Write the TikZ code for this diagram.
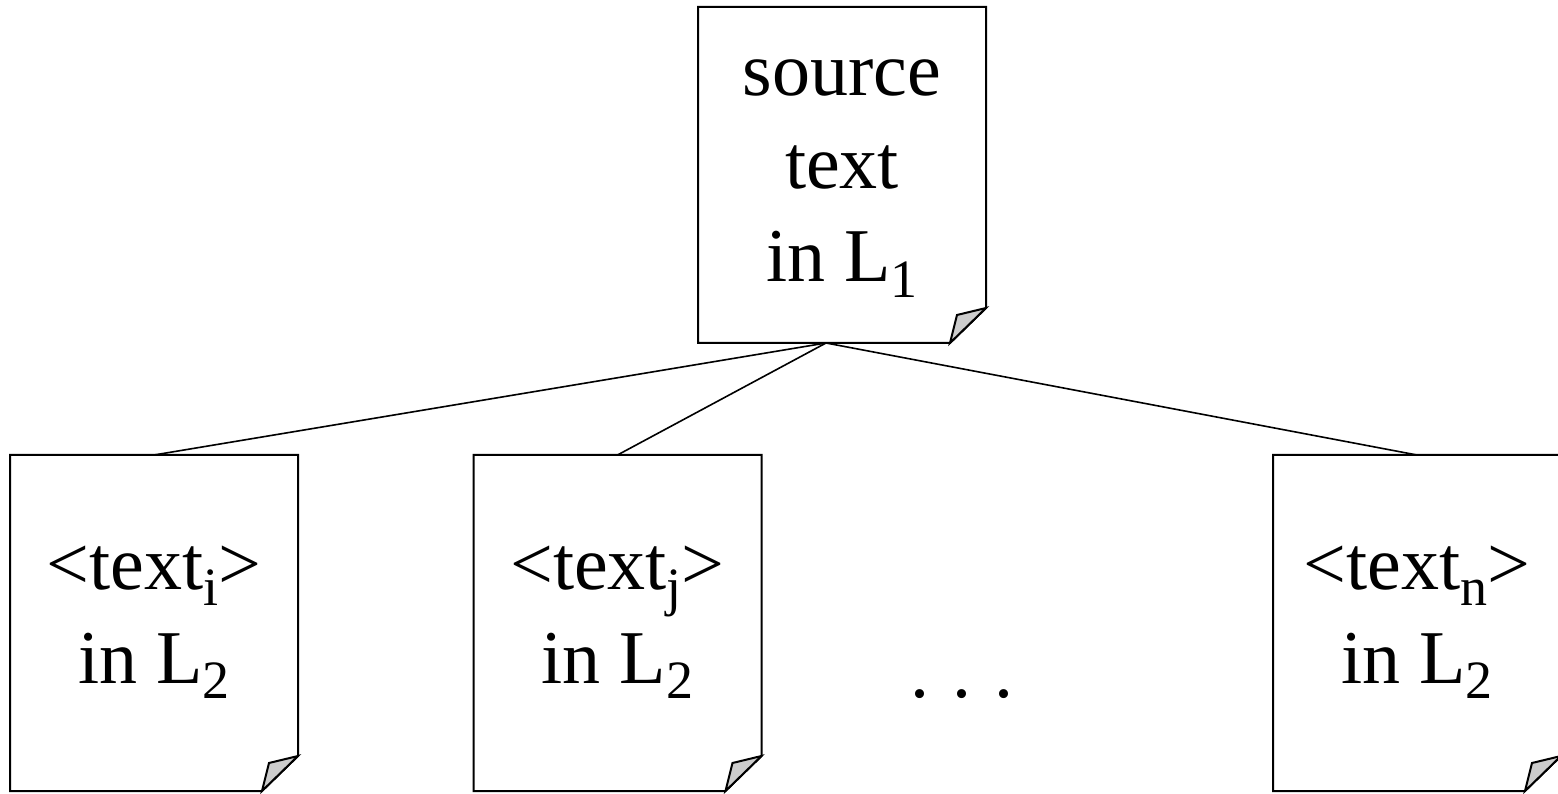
\documentclass[tikz,border=0pt]{standalone}
\usepackage{fontspec}
\setmainfont{Liberation Serif}
\usetikzlibrary{calc}
\definecolor{foldgray}{HTML}{CCCCCC}
\newcommand\sbs[1]{\raisebox{-0.21em}{\fontsize{54}{54}\selectfont #1}}
\newcommand\docshape[1]{%
  \draw[docline] (#1.north west) -- (#1.north east) -- ([yshift=35pt]#1.south east)
     -- ([xshift=-36pt]#1.south east) -- (#1.south west) -- cycle;
  \draw[docline, fill=foldgray] ([yshift=35pt]#1.south east) -- ([xshift=-29pt,yshift=28pt]#1.south east)
     -- ([xshift=-36pt]#1.south east) -- cycle;}
\begin{document}
\begin{tikzpicture}[x=1pt,y=1pt,
  docbox/.style={draw=none, minimum width=288pt, minimum height=336pt, inner sep=0pt, outer sep=0pt},
  docline/.style={line width=2pt, line join=miter},
  lbl/.style={inner sep=0pt, anchor=base, font=\fontsize{76}{93}\selectfont},
  link/.style={line width=1.6pt}]
\useasboundingbox (0,0) rectangle (1558,793);
% boxes
\node[docbox] (src) at (842,618) {};
\node[docbox] (bi) at (154,170) {};
\node[docbox] (bj) at (617.5,170) {};
\node[docbox] (bn) at (1417,170) {};
\docshape{src}
\docshape{bi}
\docshape{bj}
\docshape{bn}
% texts
\node[lbl] (srct) at (842,697) {\begin{tabular}[t]{@{}c@{}}source\\text\\in L\sbs{1}\end{tabular}};
\node[lbl] (bit) at (154,203) {\begin{tabular}[t]{@{}c@{}}<text\sbs{i}>\\in L\sbs{2}\end{tabular}};
\node[lbl] (bjt) at (617.5,203) {\begin{tabular}[t]{@{}c@{}}<text\sbs{j}>\\in L\sbs{2}\end{tabular}};
\node[lbl] (bnt) at (1417,203) {\begin{tabular}[t]{@{}c@{}}<text\sbs{n}>\\in L\sbs{2}\end{tabular}};
\node[lbl] (dots) at (962,96) {.\hspace{23pt}.\hspace{23pt}.};
% connectors
\coordinate (hub) at ([xshift=-16pt]src.south);
\draw[link] (hub) -- (bi.north);
\draw[link] (hub) -- (bj.north);
\draw[link] (hub) -- (bn.north);
\end{tikzpicture}
\end{document}
